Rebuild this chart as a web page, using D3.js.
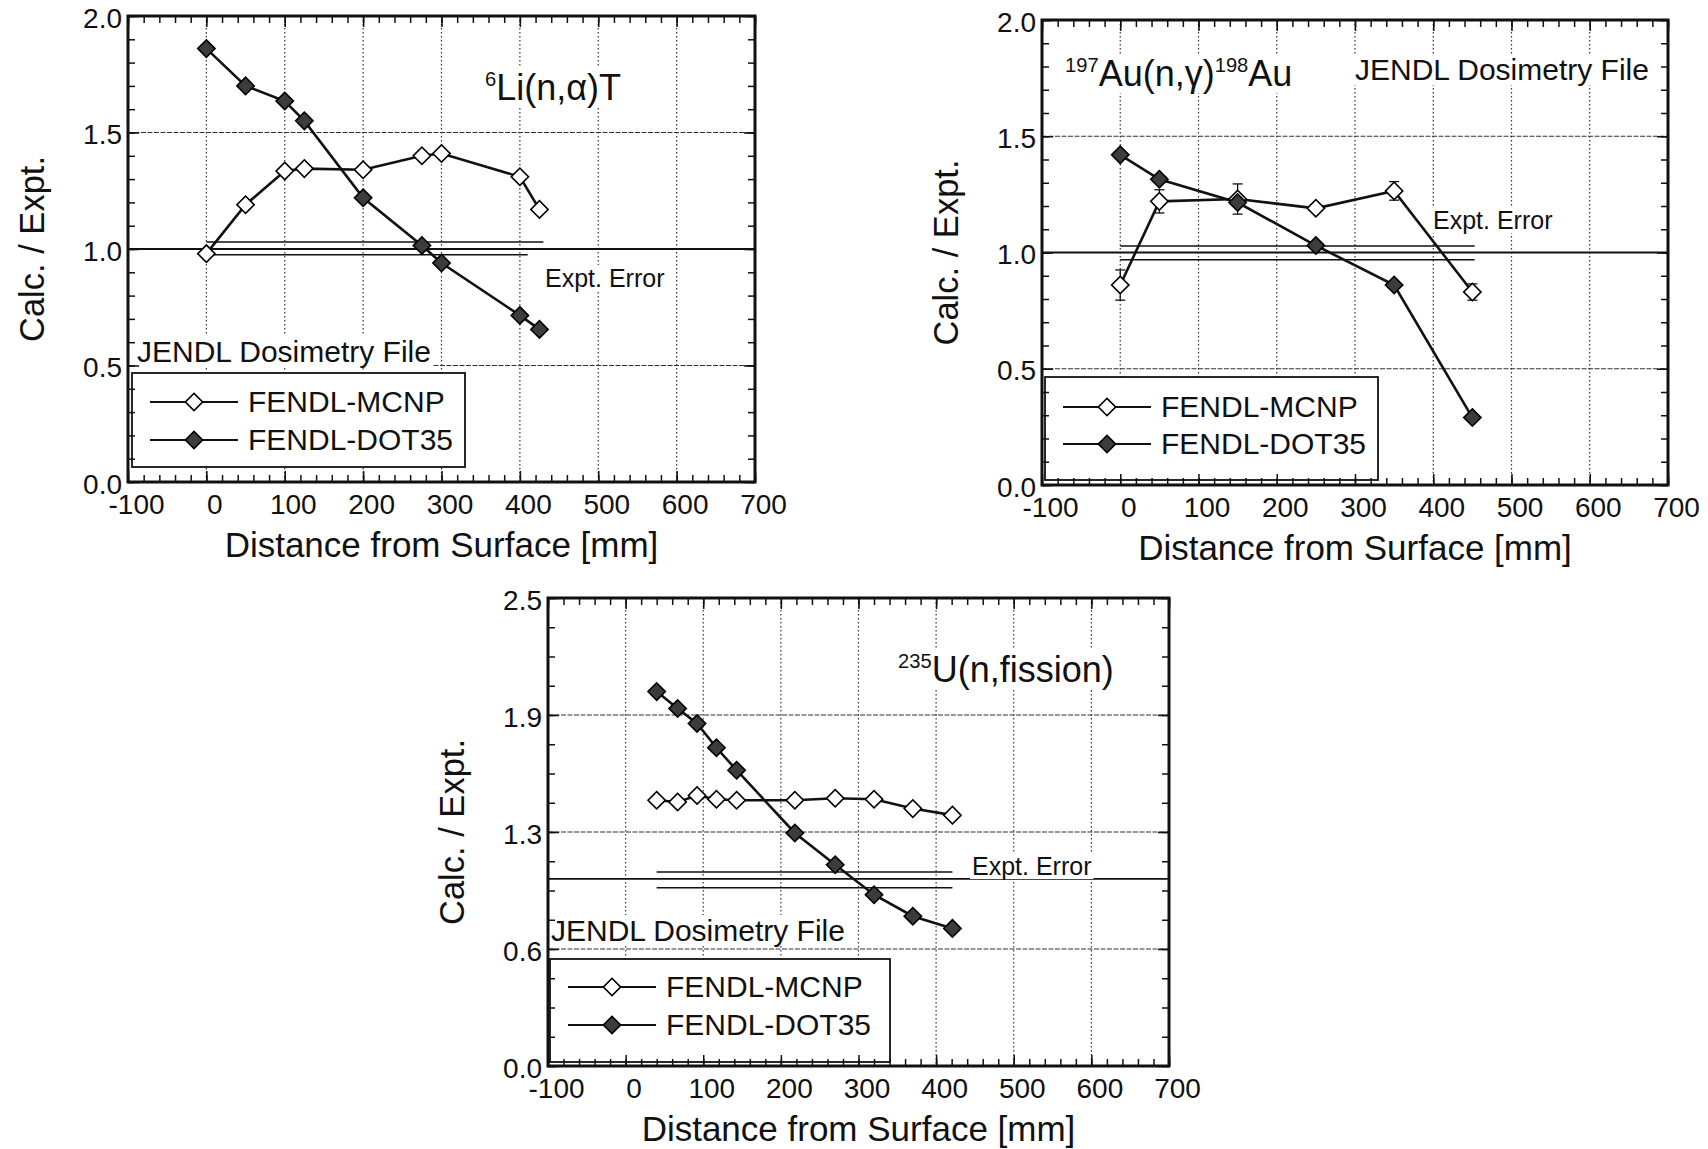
<!DOCTYPE html>
<html>
<head>
<meta charset="utf-8">
<script src="https://cdn.jsdelivr.net/npm/d3@7"></script>
<style>
body { margin: 0; background: #fff; }
svg text { font-family: "Liberation Sans", Arial, Helvetica, sans-serif; fill: #111; }
</style>
</head>
<body>
<svg id="fig" width="1708" height="1149"></svg>
<script>
// shared x axis (distance from surface, mm)
var xTickValues = [-100, 0, 100, 200, 300, 400, 500, 600, 700];
var seriesNames = ["FENDL-MCNP", "FENDL-DOT35"];

// 6Li(n,a)T
var liX     = [0, 50, 100, 125, 200, 275, 300, 400, 425];
var liMcnp  = [0.98, 1.19, 1.335, 1.345, 1.34, 1.40, 1.41, 1.31, 1.17];
var liDot   = [1.86, 1.70, 1.635, 1.55, 1.22, 1.015, 0.94, 0.715, 0.655];
var liBandY = [1.03, 0.975];
var liBandX = [[0, 430], [0, 410]];
var liYTicks = [0, 0.5, 1.0, 1.5, 2.0];
var liYLabels = ["0.0", "0.5", "1.0", "1.5", "2.0"];

// 197Au(n,g)198Au
var auX       = [0, 50, 150, 250, 350, 450];
var auMcnp    = [0.86, 1.22, 1.23, 1.19, 1.265, 0.83];
var auMcnpErr = [0.065, 0.05, 0.065, 0, 0.04, 0.035];
var auDot     = [1.42, 1.315, 1.215, 1.03, 0.86, 0.29];
var auBandY = [1.028, 0.969];
var auBandX = [[0, 453], [0, 453]];

// 235U(n,fission)
var uX     = [40, 67, 92, 117, 143, 218, 270, 320, 370, 421];
var uMcnp  = [1.42, 1.41, 1.445, 1.425, 1.42, 1.42, 1.43, 1.425, 1.375, 1.34];
var uDot   = [2.00, 1.91, 1.83, 1.70, 1.58, 1.245, 1.075, 0.915, 0.80, 0.735];
var uBandY = [1.036, 0.952];
var uBandX = [[40, 421], [40, 421]];
var uYTicks = [0, 0.625, 1.25, 1.875, 2.5];
var uYLabels = ["0.0", "0.6", "1.3", "1.9", "2.5"];

var svg = d3.select("#fig");
var FONT = '"Liberation Sans", Arial, Helvetica, sans-serif';

function diamond(sel, fill) {
	sel.attr('d', d3.symbol().type(d3.symbolSquare).size(150))
		.attr('fill', fill)
		.attr('stroke', '#000')
		.attr('stroke-width', 1.6);
}

// text with optional superscripts, on a white patch so lines stop at it
function addLabel(g, px, py, parts, size) {
	var t = g.append('text').attr('x', px).attr('y', py).attr('font-size', size);
	parts.forEach(function(p) {
		if (p.sup) {
			t.append('tspan').attr('font-size', size * 0.56).attr('dy', -size * 0.4).text(p.t);
		} else {
			t.append('tspan').attr('font-size', size).attr('dy', p.after ? size * 0.4 : 0).text(p.t);
		}
	});
	var b = t.node().getBBox();
	g.insert('rect', function() { return t.node(); })
		.attr('x', b.x - 2).attr('y', b.y + 1)
		.attr('width', b.width + 4).attr('height', b.height - 2)
		.attr('fill', '#fff');
	return t;
}

function drawPanel(cfg) {
	var g = svg.append('g');
	var x = d3.scaleLinear().domain([-100, 700]).range([cfg.left, cfg.right]);
	var y = d3.scaleLinear().domain([0, cfg.yMax]).range([cfg.bottom, cfg.top]);

	// grid
	g.selectAll('line.vg').data(xTickValues.slice(1, -1)).enter().append('line')
		.attr('x1', d => x(d)).attr('x2', d => x(d))
		.attr('y1', cfg.top).attr('y2', cfg.bottom)
		.attr('stroke', '#333').attr('stroke-width', 1.2).attr('stroke-dasharray', '1.5,2.5');
	g.selectAll('line.hg').data(cfg.yTicks.slice(1, -1)).enter().append('line')
		.attr('x1', cfg.left).attr('x2', cfg.right)
		.attr('y1', d => y(d)).attr('y2', d => y(d))
		.attr('stroke', '#333').attr('stroke-width', 1.2).attr('stroke-dasharray', '5,1.5');

	// calc/expt = 1
	g.append('line')
		.attr('x1', cfg.left).attr('x2', cfg.right)
		.attr('y1', y(1)).attr('y2', y(1))
		.attr('stroke', '#111').attr('stroke-width', 1.8);

	// experimental error band
	g.selectAll('line.band').data(cfg.bandY).enter().append('line')
		.attr('x1', (d, i) => x(cfg.bandX[i][0])).attr('x2', (d, i) => x(cfg.bandX[i][1]))
		.attr('y1', d => y(d)).attr('y2', d => y(d))
		.attr('stroke', '#111').attr('stroke-width', 1.5);

	var line = d3.line().x(d => x(d[0])).y(d => y(d[1]));
	var mcnp = cfg.xs.map((v, i) => [v, cfg.mcnp[i]]);
	var dot = cfg.xs.map((v, i) => [v, cfg.dot[i]]);

	[mcnp, dot].forEach(function(s) {
		g.append('path').datum(s).attr('d', line)
			.attr('fill', 'none').attr('stroke', '#111').attr('stroke-width', 2.6);
	});

	// error bars
	if (cfg.err) {
		var eb = g.selectAll('g.eb').data(mcnp.map((d, i) => [d[0], d[1], cfg.err[i]]).filter(d => d[2] > 0))
			.enter().append('g');
		eb.append('line').attr('x1', d => x(d[0])).attr('x2', d => x(d[0]))
			.attr('y1', d => y(d[1] - d[2])).attr('y2', d => y(d[1] + d[2]))
			.attr('stroke', '#111').attr('stroke-width', 1.3);
		[-1, 1].forEach(function(s) {
			eb.append('line').attr('x1', d => x(d[0]) - 5).attr('x2', d => x(d[0]) + 5)
				.attr('y1', d => y(d[1] + s * d[2])).attr('y2', d => y(d[1] + s * d[2]))
				.attr('stroke', '#111').attr('stroke-width', 1.3);
		});
	}

	g.selectAll('path.mc').data(mcnp).enter().append('path')
		.attr('transform', d => 'translate(' + x(d[0]) + ',' + y(d[1]) + ') rotate(45)')
		.call(diamond, '#fff');
	g.selectAll('path.dt').data(dot).enter().append('path')
		.attr('transform', d => 'translate(' + x(d[0]) + ',' + y(d[1]) + ') rotate(45)')
		.call(diamond, '#3c3c3c');

	// annotations
	addLabel(g, cfg.react[0], cfg.react[1], cfg.reactParts, 36);
	addLabel(g, cfg.jendl[0], cfg.jendl[1], [{t: 'JENDL Dosimetry File'}], 30);
	addLabel(g, cfg.expt[0], cfg.expt[1], [{t: 'Expt. Error'}], 25);

	// legend
	var lg = g.append('g').attr('transform', 'translate(' + cfg.legend[0] + ',' + cfg.legend[1] + ')');
	lg.append('rect').attr('width', cfg.legend[2]).attr('height', cfg.legend[3])
		.attr('fill', '#fff').attr('stroke', '#111').attr('stroke-width', 1.8);
	seriesNames.forEach(function(name, i) {
		var ry = cfg.legendRows[i];
		lg.append('line').attr('x1', 18).attr('x2', 106).attr('y1', ry).attr('y2', ry)
			.attr('stroke', '#111').attr('stroke-width', 2);
		lg.append('path').attr('transform', 'translate(62,' + ry + ') rotate(45)')
			.call(diamond, i == 0 ? '#fff' : '#3c3c3c');
		lg.append('text').attr('x', 116).attr('y', ry + 10).attr('font-size', 30).text(name);
	});

	// ticks on all four sides, pointing in
	var xMinor = d3.range(-100, 701, 20);
	var yMinor = d3.range(0, cfg.yMax + 1e-6, cfg.yMinor);
	function ticks(axis, tx, ty) {
		g.append('g').attr('transform', 'translate(' + tx + ',' + ty + ')')
			.call(axis)
			.call(a => a.select('.domain').remove())
			.call(a => a.selectAll('line').attr('stroke', '#111').attr('stroke-width', 1.5));
	}
	ticks(d3.axisBottom(x).tickValues(xMinor).tickSize(-7).tickFormat(''), 0, cfg.bottom);
	ticks(d3.axisTop(x).tickValues(xMinor).tickSize(-7).tickFormat(''), 0, cfg.top);
	ticks(d3.axisBottom(x).tickValues(xTickValues).tickSize(-11).tickFormat(''), 0, cfg.bottom);
	ticks(d3.axisTop(x).tickValues(xTickValues).tickSize(-11).tickFormat(''), 0, cfg.top);
	ticks(d3.axisLeft(y).tickValues(yMinor).tickSize(-7).tickFormat(''), cfg.left, 0);
	ticks(d3.axisRight(y).tickValues(yMinor).tickSize(-7).tickFormat(''), cfg.right, 0);
	ticks(d3.axisLeft(y).tickValues(cfg.yTicks).tickSize(-11).tickFormat(''), cfg.left, 0);
	ticks(d3.axisRight(y).tickValues(cfg.yTicks).tickSize(-11).tickFormat(''), cfg.right, 0);

	// tick labels
	g.append('g').attr('transform', 'translate(0,' + cfg.bottom + ')')
		.call(d3.axisBottom(x).tickValues(xTickValues).tickSize(0).tickPadding(12).tickFormat(d => String(d)))
		.call(a => a.select('.domain').remove())
		.attr('font-size', 28).attr('font-family', FONT)
		.selectAll('text').attr('dx', 8).attr('fill', '#111');
	g.append('g').attr('transform', 'translate(' + cfg.left + ',0)')
		.call(d3.axisLeft(y).tickValues(cfg.yTicks).tickSize(0).tickPadding(6).tickFormat((d, i) => cfg.yLabels[i]))
		.call(a => a.select('.domain').remove())
		.attr('font-size', 28).attr('font-family', FONT)
		.selectAll('text').attr('dy', '0.4em').attr('fill', '#111');

	// frame
	g.append('rect').attr('x', cfg.left).attr('y', cfg.top)
		.attr('width', cfg.right - cfg.left).attr('height', cfg.bottom - cfg.top)
		.attr('fill', 'none').attr('stroke', '#111').attr('stroke-width', 3);

	// axis titles
	g.append('text').attr('x', (cfg.left + cfg.right) / 2).attr('y', cfg.bottom + 75)
		.attr('text-anchor', 'middle').attr('font-size', 35).text('Distance from Surface [mm]');
	g.append('text')
		.attr('transform', 'translate(' + (cfg.left - 84) + ',' + ((cfg.top + cfg.bottom) / 2) + ') rotate(-90)')
		.attr('text-anchor', 'middle').attr('font-size', 34.5).text('Calc. / Expt.');
}

drawPanel({
	left: 128, right: 755, top: 16, bottom: 482,
	yMax: 2.0, yTicks: liYTicks, yLabels: liYLabels, yMinor: 0.1,
	xs: liX, mcnp: liMcnp, dot: liDot,
	bandY: liBandY, bandX: liBandX,
	react: [485, 100], reactParts: [{t: '6', sup: true}, {t: 'Li(n,\u03b1)T', after: true}],
	jendl: [137, 362], expt: [545, 287],
	legend: [132, 373, 333, 94], legendRows: [29, 67]
});

drawPanel({
	left: 1042, right: 1668, top: 20, bottom: 485,
	yMax: 2.0, yTicks: liYTicks, yLabels: liYLabels, yMinor: 0.1,
	xs: auX, mcnp: auMcnp, dot: auDot, err: auMcnpErr,
	bandY: auBandY, bandX: auBandX,
	react: [1065, 86], reactParts: [{t: '197', sup: true}, {t: 'Au(n,\u03b3)', after: true}, {t: '198', sup: true}, {t: 'Au', after: true}],
	jendl: [1355, 80], expt: [1433, 229],
	legend: [1045, 377, 333, 103], legendRows: [30, 67]
});

drawPanel({
	left: 548, right: 1169, top: 598, bottom: 1066,
	yMax: 2.5, yTicks: uYTicks, yLabels: uYLabels, yMinor: 0.15625,
	xs: uX, mcnp: uMcnp, dot: uDot,
	bandY: uBandY, bandX: uBandX,
	react: [898, 682], reactParts: [{t: '235', sup: true}, {t: 'U(n,fission)', after: true}],
	jendl: [551, 941], expt: [972, 875],
	legend: [550, 959, 340, 103], legendRows: [28, 66]
});
</script>
</body>
</html>
